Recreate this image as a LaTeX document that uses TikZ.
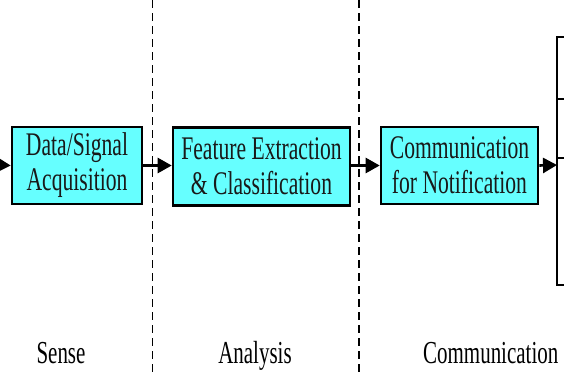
\documentclass[tikz,border=0pt]{standalone}
\usepackage{fontspec}
\setmainfont[FakeStretch=0.655]{Liberation Serif}
\usetikzlibrary{arrows.meta}
\definecolor{boxcyan}{RGB}{102,255,255}
\begin{document}
\begin{tikzpicture}[x=1pt,y=-1pt,
  stagebox/.style={draw=black,line width=2.6pt,fill=boxcyan,align=center,
    font=\fontsize{33}{35}\selectfont,inner sep=0pt,text=black!90},
  flow/.style={line width=2.6pt,-{Triangle[length=14pt,width=15pt]}},
  lbl/.style={font=\fontsize{32}{35}\selectfont,inner sep=0pt,anchor=base},
  sep1/.style={line width=1pt,dash pattern=on 8pt off 5pt},
  sep2/.style={line width=2.2pt,dash pattern=on 8pt off 5pt}]
\useasboundingbox (0,0) rectangle (564,375);
\fill[white] (0,0) rectangle (564,375);
% separators
\draw[sep1] (152.5,0) -- (152.5,375);
\draw[sep2] (359,0) -- (359,375);
% boxes
\node[stagebox,minimum width=130pt,minimum height=77pt] (b1) at (77,165.5) {Data/Signal\\Acquisition};
\node[stagebox,minimum width=177pt,minimum height=78pt] (b2) at (261.5,166.5) {Feature Extraction\\\& Classification};
\node[stagebox,minimum width=157pt,minimum height=77pt] (b3) at (459.5,165.5) {Communication\\for Notification};
% right partial structure
\coordinate (rt) at (557,37);
\coordinate (rb) at (557,285);
\coordinate (rin) at (557,165);
\draw[line width=1.8pt] (564,37) -- (rt) -- (rb) -- (564,285);
\draw[line width=1.8pt] (557,99) -- (564,99);
\draw[line width=1.8pt] (557,158) -- (564,158);
% incoming stub
\coordinate (in) at (0,165);
\draw[flow] (in) -- (b1.west);
\draw[flow] (b1.east) -- (b2.west |- b1.east);
\draw[flow] (b2.east |- b3.west) -- (b3.west);
\draw[flow] (b3.east) -- (rin);
% labels
\node[lbl] (l1) at (61,363) {Sense};
\node[lbl] (l2) at (255,363) {Analysis};
\node[lbl,anchor=base west] (l3) at (423,363) {Communication};
\end{tikzpicture}
\end{document}
